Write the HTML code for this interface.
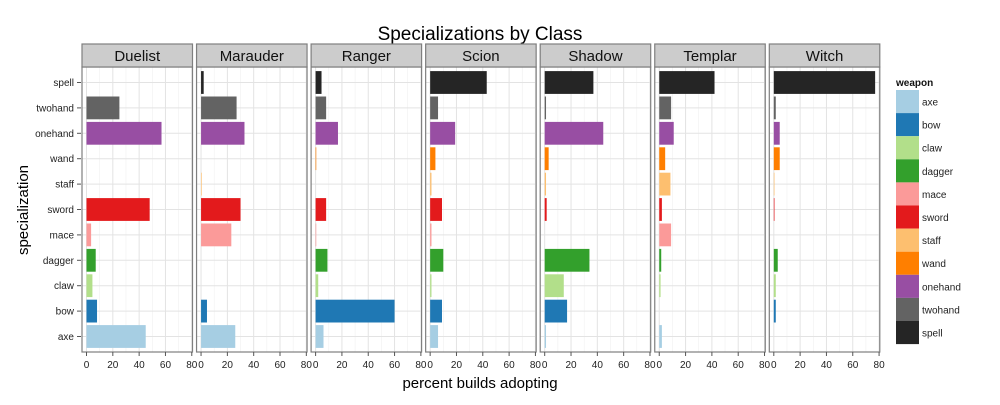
<!DOCTYPE html>
<html><head><meta charset="utf-8"><style>
body{margin:0;background:#fff;}
svg text{font-family:"Liberation Sans",sans-serif;}
</style></head><body>
<svg id="chart" width="1000" height="400" viewBox="0 0 1000 400" xmlns="http://www.w3.org/2000/svg">
<text x="480" y="40" font-size="19" text-anchor="middle">Specializations by Class</text>
<text x="480" y="388" font-size="15" text-anchor="middle">percent builds adopting</text>
<text x="0" y="0" font-size="15" text-anchor="middle" transform="translate(28,210) rotate(-90)">specialization</text>
<g id="panels"></g>
<g id="legend"></g>
</svg>
<script>
const classes = ["Duelist","Marauder","Ranger","Scion","Shadow","Templar","Witch"];
const weapons = ["axe","bow","claw","dagger","mace","sword","staff","wand","onehand","twohand","spell"];
const colors = ["#a6cee3","#1f78b4","#b2df8a","#33a02c","#fb9a99","#e31a1c","#fdbf6f","#ff7f00","#984ea3","#636363","#252525"];
const xTicks = [0,20,40,60,80];
const duelist  = [45,8,4.5,7,3.5,48,0,0,57,25,0];
const marauder = [26,4.5,0,0,23,30,0.5,0,33,27,2];
const ranger   = [6,60,2,9,0.5,8,0,0.5,17,8,4.5];
const scion    = [6,9,1,10,1,9,1,4,19,6,43];
const shadow   = [1,17,14.5,34,0,1.5,1,3,44.5,1,37];
const templar  = [2,0,1,1.5,9,2,8.5,4.5,11,9,42];
const witch    = [0,1.5,1.5,3,0,0.5,0.5,4.5,4.5,1.5,77];
const values = [duelist,marauder,ranger,scion,shadow,templar,witch];

const NS="http://www.w3.org/2000/svg";
const plotTop=67, plotBot=352, stripTop=44, pw=110.5;
function panelLeft(i){return 82+i*114.55;}
function xScale(i,v){return panelLeft(i)+4.5+v*1.316;}
function yScale(k){return 336.5-k*25.4;}
function mk(tag,attrs,parent){const e=document.createElementNS(NS,tag);for(const a in attrs)e.setAttribute(a,attrs[a]);parent.appendChild(e);return e;}
const P=document.getElementById('panels');
// y labels
weapons.forEach((w,k)=>{
  const t=mk('text',{x:74,y:yScale(k)+3.5,'font-size':10,'text-anchor':'end',fill:'#222'},P);
  t.textContent=w;
  
  
  mk('line',{x1:77,x2:81,y1:yScale(k),y2:yScale(k),stroke:'#555'},P);
});
classes.forEach((c,i)=>{
  const g=mk('g',{},P);
  
  
  const L=panelLeft(i);
  mk('rect',{x:L,y:plotTop,width:pw,height:plotBot-plotTop,fill:'#fff'},g);
  for(let v=10;v<=80;v+=20){mk('line',{x1:xScale(i,v),x2:xScale(i,v),y1:plotTop,y2:plotBot,stroke:'#f0f0f0','stroke-width':0.6},g);}
  xTicks.forEach(v=>{mk('line',{x1:xScale(i,v),x2:xScale(i,v),y1:plotTop,y2:plotBot,stroke:'#e3e3e3','stroke-width':1},g);});
  weapons.forEach((w,k)=>{mk('line',{x1:L,x2:L+pw,y1:yScale(k),y2:yScale(k),stroke:'#e3e3e3','stroke-width':1},g);});
  values[i].forEach((v,k)=>{
    if(v<=0)return;
    const r=mk('rect',{x:xScale(i,0),y:yScale(k)-11.4,width:xScale(i,v)-xScale(i,0),height:22.8,fill:colors[k]},g);
    
    
  });
  mk('rect',{x:L,y:plotTop,width:pw,height:plotBot-plotTop,fill:'none',stroke:'#7f7f7f','stroke-width':1.2},g);
  const s=mk('rect',{x:L,y:stripTop,width:pw,height:plotTop-stripTop,fill:'#cccccc',stroke:'#7f7f7f','stroke-width':1.2},g);
  
  
  const st=mk('text',{x:L+pw/2,y:plotTop-6,'font-size':15,'text-anchor':'middle',fill:'#111'},g);
  st.textContent=c;
  xTicks.forEach(v=>{
    mk('line',{x1:xScale(i,v),x2:xScale(i,v),y1:plotBot,y2:plotBot+4,stroke:'#555'},g);
    const t=mk('text',{x:xScale(i,v),y:plotBot+16,'font-size':10,'text-anchor':'middle',fill:'#222'},g);
    t.textContent=v;
    
    
  });
});
const LG=document.getElementById('legend');
const lt=mk('text',{x:896,y:86,'font-size':10,'font-weight':'bold',fill:'#111'},LG);
lt.textContent='weapon';
weapons.forEach((w,k)=>{
  const y=90+k*23.1;
  const r=mk('rect',{x:896,y:y,width:23,height:23.1,fill:colors[k]},LG);
  
  
  const t=mk('text',{x:922,y:y+15.5,'font-size':10,fill:'#222'},LG);
  t.textContent=w;
  
  
});
</script>
</body></html>
